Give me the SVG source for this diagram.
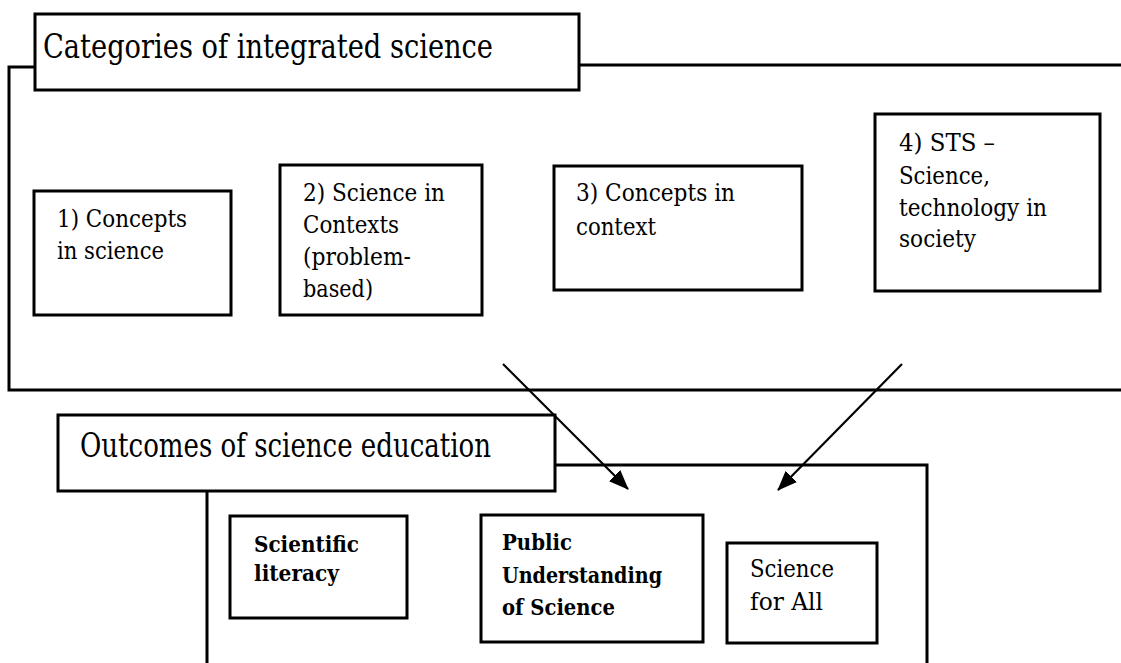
<svg xmlns="http://www.w3.org/2000/svg" width="1121" height="663" viewBox="0 0 1121 663">
<defs>
<style>
.bg{fill:#ffffff}
.frame{fill:none;stroke:#000;stroke-width:3}
.box{fill:#fff;stroke:#000;stroke-width:3}
.t{fill:#000;font-family:"DejaVu Serif","Liberation Serif","Times New Roman",serif}
.big{font-size:33px}
.mid{font-size:25px}
.bold{font-size:23px;font-weight:bold}
.arrow{fill:none;stroke:#000;stroke-width:2.2}
</style>
<marker id="ah" viewBox="0 0 20 16" refX="19" refY="8" markerWidth="20" markerHeight="16" markerUnits="userSpaceOnUse" orient="auto">
<path d="M0,0 L20,8 L0,16 z" fill="#000"/>
</marker>
</defs>
<rect class="bg" x="0" y="0" width="1121" height="663"/>
<g id="frame-categories">
<path class="frame" d="M579,65 H1121 M35,67 H9 V390 H1121"/>
<rect class="box" x="35" y="14" width="544" height="76"/>
<text class="t big" x="43" y="58" textLength="450" lengthAdjust="spacingAndGlyphs">Categories of integrated science</text>
</g>
<g id="frame-outcomes">
<path class="frame" d="M207,491 V663 M555,465 H927 V663"/>
<rect class="box" x="58" y="415" width="497" height="76"/>
<text class="t big" x="80" y="457" textLength="411" lengthAdjust="spacingAndGlyphs">Outcomes of science education</text>
</g>
<g id="node1">
<rect class="box" x="34" y="191" width="197" height="124"/>
<text class="t mid" x="57" y="227" textLength="130" lengthAdjust="spacingAndGlyphs">1) Concepts</text>
<text class="t mid" x="57" y="259" textLength="107" lengthAdjust="spacingAndGlyphs">in science</text>
</g>
<g id="node2">
<rect class="box" x="280" y="165" width="202" height="150"/>
<text class="t mid" x="303" y="201" textLength="142" lengthAdjust="spacingAndGlyphs">2) Science in</text>
<text class="t mid" x="303" y="233" textLength="96" lengthAdjust="spacingAndGlyphs">Contexts</text>
<text class="t mid" x="303" y="265" textLength="108" lengthAdjust="spacingAndGlyphs">(problem-</text>
<text class="t mid" x="303" y="297" textLength="70" lengthAdjust="spacingAndGlyphs">based)</text>
</g>
<g id="node3">
<rect class="box" x="554" y="166" width="248" height="124"/>
<text class="t mid" x="576" y="201" textLength="159" lengthAdjust="spacingAndGlyphs">3) Concepts in</text>
<text class="t mid" x="576" y="235" textLength="80" lengthAdjust="spacingAndGlyphs">context</text>
</g>
<g id="node4">
<rect class="box" x="875" y="114" width="225" height="177"/>
<text class="t mid" x="899" y="151" textLength="96" lengthAdjust="spacingAndGlyphs">4) STS –</text>
<text class="t mid" x="899" y="184" textLength="91" lengthAdjust="spacingAndGlyphs">Science,</text>
<text class="t mid" x="899" y="216" textLength="148" lengthAdjust="spacingAndGlyphs">technology in</text>
<text class="t mid" x="899" y="247" textLength="77" lengthAdjust="spacingAndGlyphs">society</text>
</g>
<g id="node5">
<rect class="box" x="230" y="516" width="177" height="102"/>
<text class="t bold" x="254" y="552" textLength="105" lengthAdjust="spacingAndGlyphs">Scientific</text>
<text class="t bold" x="254" y="581" textLength="85" lengthAdjust="spacingAndGlyphs">literacy</text>
</g>
<g id="node6">
<rect class="box" x="481" y="515" width="222" height="127"/>
<text class="t bold" x="502" y="550" textLength="70" lengthAdjust="spacingAndGlyphs">Public</text>
<text class="t bold" x="502" y="583" textLength="160" lengthAdjust="spacingAndGlyphs">Understanding</text>
<text class="t bold" x="502" y="615" textLength="113" lengthAdjust="spacingAndGlyphs">of Science</text>
</g>
<g id="node7">
<rect class="box" x="727" y="543" width="150" height="100"/>
<text class="t mid" x="750" y="577" textLength="84" lengthAdjust="spacingAndGlyphs">Science</text>
<text class="t mid" x="750" y="610" textLength="73" lengthAdjust="spacingAndGlyphs">for All</text>
</g>
<g id="connectors">
<line class="arrow" x1="503" y1="364" x2="628" y2="489" marker-end="url(#ah)"/>
<line class="arrow" x1="902" y1="364" x2="778" y2="490" marker-end="url(#ah)"/>
</g>
</svg>
